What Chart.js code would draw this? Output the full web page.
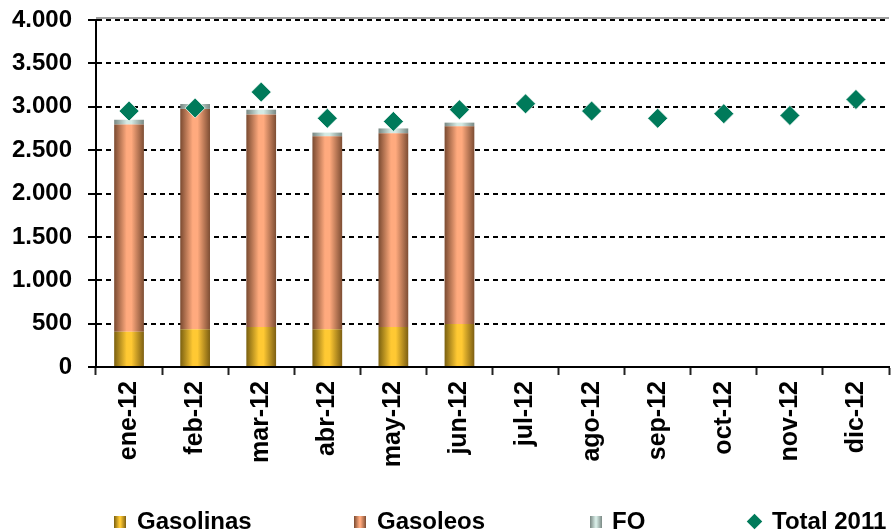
<!DOCTYPE html>
<html><head><meta charset="utf-8">
<script src="https://cdn.jsdelivr.net/npm/chart.js@4"></script>
<style>
html,body{margin:0;padding:0;overflow:hidden;background:#fff;width:892px;height:531px;}
#wrap{position:absolute;left:0;top:0;width:900px;height:531px;}
.lg{position:absolute;top:509px;font:bold 24px "Liberation Sans",Arial,sans-serif;line-height:24px;color:#000;white-space:nowrap;}
.sw{position:absolute;top:516px;width:12px;height:12px;}
.dm{position:absolute;top:516px;width:11px;height:11px;background:#007A5A;transform:rotate(45deg);}
</style></head><body>
<div id="wrap"><canvas id="c"></canvas></div>
<div class="sw" style="left:114px;background:linear-gradient(90deg,#7A6010,#FFC933 45%,#FFC933 55%,#7D5F12)"></div>
<div class="lg" style="left:137px">Gasolinas</div>
<div class="sw" style="left:354px;background:linear-gradient(90deg,#7A4A30,#FFAA7E 45%,#FFA87C 55%,#7D4D33)"></div>
<div class="lg" style="left:377px">Gasoleos</div>
<div class="sw" style="left:590px;background:linear-gradient(90deg,#788782,#D5EAE4 45%,#D5EAE4 55%,#7A8984)"></div>
<div class="lg" style="left:612px">FO</div>
<div class="dm" style="left:749px"></div>
<div class="lg" style="left:772px">Total 2011</div>
<script>
const categories = ['ene-12','feb-12','mar-12','abr-12','may-12','jun-12','jul-12','ago-12','sep-12','oct-12','nov-12','dic-12'];
const gasolinas = [405, 435, 460, 435, 460, 495, null, null, null, null, null, null];
const gasoleos  = [2390, 2540, 2452, 2225, 2235, 2280, null, null, null, null, null, null];
const fo        = [55, 57, 54, 42, 55, 42, null, null, null, null, null, null];
const total2011 = [2950, 2985, 3169, 2866, 2831, 2966, 3034, 2950, 2866, 2920, 2900, 3084];
const yTickLabels = ['0','500','1.000','1.500','2.000','2.500','3.000','3.500','4.000'];

const FONT = '"Liberation Sans", Arial, sans-serif';

function barGradient(c0, c1, c2) {
  return function (ctx) {
    const chart = ctx.chart, xs = chart.scales.x;
    if (ctx.type !== 'data' || !xs || !xs.width) return c1;
    const cw = xs.width / categories.length;
    const cx = xs.getPixelForValue(ctx.dataIndex);
    const hw = cw * 0.45 / 2;
    const g = chart.ctx.createLinearGradient(cx - hw, 0, cx + hw, 0);
    g.addColorStop(0, c0);
    g.addColorStop(0.42, c1);
    g.addColorStop(0.58, c1);
    g.addColorStop(1, c2);
    return g;
  };
}

const topBorder = {
  id: 'topBorder',
  beforeDatasetsDraw(chart) {
    const {ctx, chartArea: a} = chart;
    ctx.save();
    ctx.strokeStyle = '#7f7f7f';
    ctx.lineWidth = 1.5;
    ctx.beginPath();
    ctx.moveTo(a.left, a.top - 2);
    ctx.lineTo(a.right, a.top - 2);
    ctx.stroke();
    ctx.restore();
  }
};

new Chart(document.getElementById('c'), {
  type: 'bar',
  data: {
    labels: categories,
    datasets: [
      { type: 'line', label: 'Total 2011', data: total2011, showLine: false, stack: 'total',
        pointStyle: 'rectRot', pointRadius: 10, pointHoverRadius: 10,
        pointBackgroundColor: '#007A5A', pointBorderColor: 'rgba(255,255,255,0.7)', pointBorderWidth: 1, order: 0 },
      { label: 'Gasolinas', data: gasolinas, stack: 'bars', order: 1,
        backgroundColor: barGradient('#7A6010', '#FFC933', '#7D5F12') },
      { label: 'Gasoleos', data: gasoleos, stack: 'bars', order: 1,
        backgroundColor: barGradient('#7A4A30', '#FFAA7E', '#7D4D33') },
      { label: 'FO', data: fo, stack: 'bars', order: 1,
        backgroundColor: barGradient('#788782', '#D5EAE4', '#7A8984') }
    ]
  },
  options: {
    responsive: true,
    maintainAspectRatio: false,
    animation: false,
    events: [],
    layout: { padding: { top: 20, right: 2, bottom: 0, left: 0 } },
    datasets: { bar: { categoryPercentage: 1, barPercentage: 0.45, borderWidth: 0 } },
    plugins: { legend: { display: false }, tooltip: { enabled: false }, title: { display: false } },
    scales: {
      x: {
        stacked: true,
        ticks: { color: '#000', font: { family: FONT, size: 25, weight: 'bold' }, minRotation: 90, maxRotation: 90, autoSkip: false, padding: 6 },
        grid: { display: true, drawOnChartArea: false, offset: true, tickLength: 8, tickColor: '#222', tickWidth: 2 },
        border: { color: '#000', width: 2 },
        afterFit: s => { s.height = 164; }
      },
      y: {
        stacked: true, min: 0, max: 4000,
        ticks: { stepSize: 500, color: '#000', font: { family: FONT, size: 24, weight: 'bold', lineHeight: 0.3 }, padding: 16,
                 callback: v => yTickLabels[Math.round(v / 500)] },
        grid: { color: '#000', lineWidth: 2, tickLength: 8, tickColor: '#000', tickWidth: 2, tickBorderDash: [] },
        border: { color: '#000', width: 2, dash: [5, 4] },
        afterFit: s => { s.width = 96; }
      }
    }
  },
  plugins: [topBorder]
});
</script>
</body></html>
